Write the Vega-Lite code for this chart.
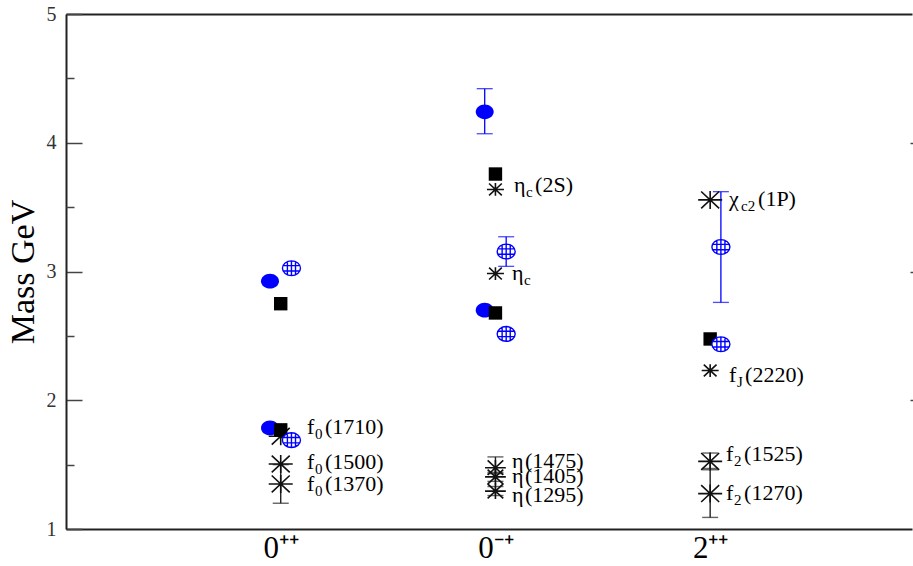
{
  "$schema": "https://vega.github.io/schema/vega-lite/v6.json",
  "width": 846,
  "height": 515,
  "autosize": {"type": "none"},
  "padding": {"left": 66, "top": 14, "right": 1, "bottom": 37},
  "background": "white",
  "config": {"view": {"stroke": null}, "font": "Liberation Serif"},
  "datasets": {
    "lat": [
      {"s": "A", "x": 0.95, "m": 2.925},
      {"s": "A", "x": 0.95, "m": 1.785},
      {"s": "A", "x": 1.95, "m": 4.24, "lo": 4.07, "hi": 4.42},
      {"s": "A", "x": 1.95, "m": 2.70},
      {"s": "B", "x": 1.05, "m": 3.025},
      {"s": "B", "x": 1.05, "m": 1.69},
      {"s": "B", "x": 2.05, "m": 3.155, "lo": 3.04, "hi": 3.27},
      {"s": "B", "x": 2.05, "m": 2.515},
      {"s": "B", "x": 3.05, "m": 3.19, "lo": 2.76, "hi": 3.62},
      {"s": "B", "x": 3.05, "m": 2.435},
      {"s": "C", "x": 1, "m": 2.75},
      {"s": "C", "x": 1, "m": 1.77},
      {"s": "C", "x": 2, "m": 3.757},
      {"s": "C", "x": 2, "m": 2.678},
      {"s": "C", "x": 3, "m": 2.476}
    ],
    "exp": [
      {"n": "f0(1710)", "x": 1, "m": 1.72, "k": "L"},
      {"n": "f0(1500)", "x": 1, "m": 1.505, "k": "L"},
      {"n": "f0(1370)", "x": 1, "m": 1.35, "k": "L", "lo": 1.2, "hi": 1.5},
      {"n": "eta_c(2S)", "x": 2, "m": 3.637, "k": "S"},
      {"n": "eta_c", "x": 2, "m": 2.984, "k": "S"},
      {"n": "eta(1475)", "x": 2, "m": 1.476, "k": "M", "lo": 1.43, "hi": 1.56},
      {"n": "eta(1405)", "x": 2, "m": 1.405, "k": "M", "lo": 1.37, "hi": 1.44},
      {"n": "eta(1295)", "x": 2, "m": 1.294, "k": "M", "lo": 1.26, "hi": 1.33},
      {"n": "chi_c2(1P)", "x": 3, "m": 3.556, "k": "L"},
      {"n": "f_J(2220)", "x": 3, "m": 2.231, "k": "S"},
      {"n": "f2(1525)", "x": 3, "m": 1.525, "k": "L", "lo": 1.47, "hi": 1.59},
      {"n": "f2(1270)", "x": 3, "m": 1.275, "k": "L", "lo": 1.09, "hi": 1.46}
    ],
    "lab": [
      {"b": "f", "s": "0", "r": "(1710)", "g": "fd", "x": 1.122, "y": 1.79},
      {"b": "f", "s": "0", "r": "(1500)", "g": "fd", "x": 1.122, "y": 1.523},
      {"b": "f", "s": "0", "r": "(1370)", "g": "fd", "x": 1.122, "y": 1.352},
      {"b": "η", "s": "c", "r": "(2S)", "g": "ec", "x": 2.087, "y": 3.674},
      {"b": "η", "s": "c", "r": "", "g": "ec", "x": 2.077, "y": 2.991},
      {"b": "η", "s": "", "r": "(1475)", "g": "e", "x": 2.077, "y": 1.53},
      {"b": "η", "s": "", "r": "(1405)", "g": "e", "x": 2.077, "y": 1.414},
      {"b": "η", "s": "", "r": "(1295)", "g": "e", "x": 2.077, "y": 1.266},
      {"b": "χ", "s": "c2", "r": "(1P)", "g": "xc", "x": 3.088, "y": 3.565},
      {"b": "f", "s": "J", "r": "(2220)", "g": "fJ", "x": 3.088, "y": 2.198},
      {"b": "f", "s": "2", "r": "(1525)", "g": "fd", "x": 3.074, "y": 1.585},
      {"b": "f", "s": "2", "r": "(1270)", "g": "fd", "x": 3.074, "y": 1.282}
    ]
  },
  "layer": [
    {
      "data": {"name": "lat"},
      "transform": [{"filter": "datum.lo != null"}],
      "mark": {"type": "rule", "color": "#0000ff", "strokeWidth": 1.3},
      "encoding": {
        "x": {"field": "x", "type": "quantitative", "scale": {"domain": [0, 3.94], "nice": false, "zero": false}, "axis": null},
        "y": {"field": "lo", "type": "quantitative", "scale": {"domain": [1, 5], "nice": false, "zero": false}, "axis": null},
        "y2": {"field": "hi"}
      }
    },
    {
      "data": {"name": "lat"},
      "transform": [{"filter": "datum.lo != null"}, {"fold": ["lo", "hi"], "as": ["end", "v"]}],
      "mark": {"type": "tick", "orient": "horizontal", "color": "#0000ff", "size": 16, "thickness": 1.3},
      "encoding": {
        "x": {"field": "x", "type": "quantitative", "scale": {"domain": [0, 3.94], "nice": false, "zero": false}, "axis": null},
        "y": {"field": "v", "type": "quantitative", "scale": {"domain": [1, 5], "nice": false, "zero": false}, "axis": null}
      }
    },
    {
      "data": {"name": "exp"},
      "transform": [{"filter": "datum.lo != null"}],
      "mark": {"type": "rule", "color": "#222", "strokeWidth": 1.4},
      "encoding": {
        "x": {"field": "x", "type": "quantitative", "scale": {"domain": [0, 3.94], "nice": false, "zero": false}, "axis": null},
        "y": {"field": "lo", "type": "quantitative", "scale": {"domain": [1, 5], "nice": false, "zero": false}, "axis": null},
        "y2": {"field": "hi"}
      }
    },
    {
      "data": {"name": "exp"},
      "transform": [{"filter": "datum.lo != null"}, {"fold": ["lo", "hi"], "as": ["end", "v"]}],
      "mark": {"type": "tick", "orient": "horizontal", "color": "#222", "size": 16, "thickness": 1.4},
      "encoding": {
        "x": {"field": "x", "type": "quantitative", "scale": {"domain": [0, 3.94], "nice": false, "zero": false}, "axis": null},
        "y": {"field": "v", "type": "quantitative", "scale": {"domain": [1, 5], "nice": false, "zero": false}, "axis": null}
      }
    },
    {
      "data": {"name": "exp"},
      "mark": {"type": "point", "filled": false, "shape": "M-1,0L1,0M0,-0.75L0,0.75M-0.75,-0.7L0.75,0.7M-0.75,0.7L0.75,-0.7", "color": "#111", "strokeWidth": 1.6, "opacity": 1},
      "encoding": {
        "x": {"field": "x", "type": "quantitative", "scale": {"domain": [0, 3.94], "nice": false, "zero": false}, "axis": null},
        "y": {"field": "m", "type": "quantitative", "scale": {"domain": [1, 5], "nice": false, "zero": false}, "axis": null},
        "size": {"field": "k", "type": "nominal", "scale": {"domain": ["L", "M", "S"], "range": [576, 289, 169]}, "legend": null}
      }
    },
    {
      "data": {"name": "lat"},
      "transform": [{"filter": "datum.s == 'A'"}],
      "mark": {"type": "point", "filled": true, "shape": "M-1,0A1,0.82 0 1,0 1,0A1,0.82 0 1,0 -1,0Z", "color": "#0000ff", "size": 324, "opacity": 1},
      "encoding": {
        "x": {"field": "x", "type": "quantitative", "scale": {"domain": [0, 3.94], "nice": false, "zero": false},
          "axis": {"orient": "bottom", "values": [1, 2, 3], "labelExpr": "datum.value == 1 ? '0⁺⁺' : datum.value == 2 ? '0⁻⁺' : '2⁺⁺'", "ticks": false, "grid": false, "domainColor": "#222", "domainWidth": 2, "labelFont": "Liberation Serif", "labelFontSize": 31, "labelColor": "#000", "labelPadding": 4, "labelFlush": false, "title": null}},
        "y": {"field": "m", "type": "quantitative", "scale": {"domain": [1, 5], "nice": false, "zero": false},
          "axis": {"orient": "left", "values": [1, 2, 3, 4, 5], "tickSize": -16, "tickColor": "#444", "tickWidth": 1.5, "grid": false, "domainColor": "#222", "domainWidth": 2, "labelFont": "Liberation Serif", "labelFontSize": 20, "labelColor": "#333", "labelPadding": 26, "labelFlush": false, "title": "Mass GeV", "titleFont": "Liberation Serif", "titleFontSize": 34, "titleFontWeight": "normal", "titleColor": "#000", "titlePadding": 6}}
      }
    },
    {
      "data": {"name": "lat"},
      "transform": [{"filter": "datum.s == 'C'"}],
      "mark": {"type": "square", "color": "#000", "size": 180, "opacity": 1},
      "encoding": {
        "x": {"field": "x", "type": "quantitative", "scale": {"domain": [0, 3.94], "nice": false, "zero": false}, "axis": null},
        "y": {"field": "m", "type": "quantitative", "scale": {"domain": [1, 5], "nice": false, "zero": false},
          "axis": {"orient": "left", "offset": -860, "values": [2, 3, 4], "tickSize": 16, "tickColor": "#444", "tickWidth": 1.5, "labels": false, "domain": false, "grid": false, "title": null}}
      }
    },
    {
      "data": {"name": "lat"},
      "transform": [{"filter": "datum.s == 'B'"}],
      "mark": {"type": "point", "filled": false, "fill": "white", "fillOpacity": 1, "shape": "M-1,0A1,0.82 0 1,0 1,0A1,0.82 0 1,0 -1,0M-0.45,-0.73L-0.45,0.73M0,-0.82L0,0.82M0.45,-0.73L0.45,0.73M-0.93,-0.3L0.93,-0.3M-0.93,0.3L0.93,0.3", "color": "#0000ff", "strokeWidth": 1.4, "size": 324, "opacity": 1},
      "encoding": {
        "x": {"field": "x", "type": "quantitative", "scale": {"domain": [0, 3.94], "nice": false, "zero": false},
          "axis": {"orient": "top", "ticks": false, "labels": false, "grid": false, "domainColor": "#222", "domainWidth": 2, "title": null}},
        "y": {"field": "m", "type": "quantitative", "scale": {"domain": [1, 5], "nice": false, "zero": false},
          "axis": {"orient": "right", "offset": -846, "values": [1.5, 2.5, 3.5, 4.5], "tickSize": 8, "tickColor": "#444", "tickWidth": 1.5, "labels": false, "domain": false, "grid": false, "title": null}}
      }
    },
    {
      "data": {"name": "lab"},
      "mark": {"type": "text", "align": "left", "baseline": "middle", "font": "Liberation Serif", "fontSize": 22, "color": "#000"},
      "encoding": {
        "x": {"field": "x", "type": "quantitative", "scale": {"domain": [0, 3.94], "nice": false, "zero": false}, "axis": null},
        "y": {"field": "y", "type": "quantitative", "scale": {"domain": [1, 5], "nice": false, "zero": false}, "axis": null},
        "text": {"field": "b"}
      }
    },
    {
      "data": {"name": "lab"},
      "transform": [{"filter": "datum.g == 'fd' || datum.g == 'fJ'"}],
      "mark": {"type": "text", "align": "left", "baseline": "middle", "font": "Liberation Serif", "fontSize": 15, "dx": 8, "dy": 7, "color": "#000"},
      "encoding": {
        "x": {"field": "x", "type": "quantitative", "scale": {"domain": [0, 3.94], "nice": false, "zero": false}, "axis": null},
        "y": {"field": "y", "type": "quantitative", "scale": {"domain": [1, 5], "nice": false, "zero": false}, "axis": null},
        "text": {"field": "s"}
      }
    },
    {
      "data": {"name": "lab"},
      "transform": [{"filter": "datum.g == 'ec' || datum.g == 'xc'"}],
      "mark": {"type": "text", "align": "left", "baseline": "middle", "font": "Liberation Serif", "fontSize": 15, "dx": 12, "dy": 7, "color": "#000"},
      "encoding": {
        "x": {"field": "x", "type": "quantitative", "scale": {"domain": [0, 3.94], "nice": false, "zero": false}, "axis": null},
        "y": {"field": "y", "type": "quantitative", "scale": {"domain": [1, 5], "nice": false, "zero": false}, "axis": null},
        "text": {"field": "s"}
      }
    },
    {
      "data": {"name": "lab"},
      "transform": [{"filter": "datum.g == 'fd'"}],
      "mark": {"type": "text", "align": "left", "baseline": "middle", "font": "Liberation Serif", "fontSize": 22, "dx": 18, "color": "#000"},
      "encoding": {
        "x": {"field": "x", "type": "quantitative", "scale": {"domain": [0, 3.94], "nice": false, "zero": false}, "axis": null},
        "y": {"field": "y", "type": "quantitative", "scale": {"domain": [1, 5], "nice": false, "zero": false}, "axis": null},
        "text": {"field": "r"}
      }
    },
    {
      "data": {"name": "lab"},
      "transform": [{"filter": "datum.g == 'fJ'"}],
      "mark": {"type": "text", "align": "left", "baseline": "middle", "font": "Liberation Serif", "fontSize": 22, "dx": 16, "color": "#000"},
      "encoding": {
        "x": {"field": "x", "type": "quantitative", "scale": {"domain": [0, 3.94], "nice": false, "zero": false}, "axis": null},
        "y": {"field": "y", "type": "quantitative", "scale": {"domain": [1, 5], "nice": false, "zero": false}, "axis": null},
        "text": {"field": "r"}
      }
    },
    {
      "data": {"name": "lab"},
      "transform": [{"filter": "datum.g == 'ec'"}],
      "mark": {"type": "text", "align": "left", "baseline": "middle", "font": "Liberation Serif", "fontSize": 22, "dx": 21, "color": "#000"},
      "encoding": {
        "x": {"field": "x", "type": "quantitative", "scale": {"domain": [0, 3.94], "nice": false, "zero": false}, "axis": null},
        "y": {"field": "y", "type": "quantitative", "scale": {"domain": [1, 5], "nice": false, "zero": false}, "axis": null},
        "text": {"field": "r"}
      }
    },
    {
      "data": {"name": "lab"},
      "transform": [{"filter": "datum.g == 'e'"}],
      "mark": {"type": "text", "align": "left", "baseline": "middle", "font": "Liberation Serif", "fontSize": 22, "dx": 13, "color": "#000"},
      "encoding": {
        "x": {"field": "x", "type": "quantitative", "scale": {"domain": [0, 3.94], "nice": false, "zero": false}, "axis": null},
        "y": {"field": "y", "type": "quantitative", "scale": {"domain": [1, 5], "nice": false, "zero": false}, "axis": null},
        "text": {"field": "r"}
      }
    },
    {
      "data": {"name": "lab"},
      "transform": [{"filter": "datum.g == 'xc'"}],
      "mark": {"type": "text", "align": "left", "baseline": "middle", "font": "Liberation Serif", "fontSize": 22, "dx": 29, "color": "#000"},
      "encoding": {
        "x": {"field": "x", "type": "quantitative", "scale": {"domain": [0, 3.94], "nice": false, "zero": false}, "axis": null},
        "y": {"field": "y", "type": "quantitative", "scale": {"domain": [1, 5], "nice": false, "zero": false}, "axis": null},
        "text": {"field": "r"}
      }
    }
  ],
  "resolve": {"axis": {"x": "independent", "y": "independent"}}
}
